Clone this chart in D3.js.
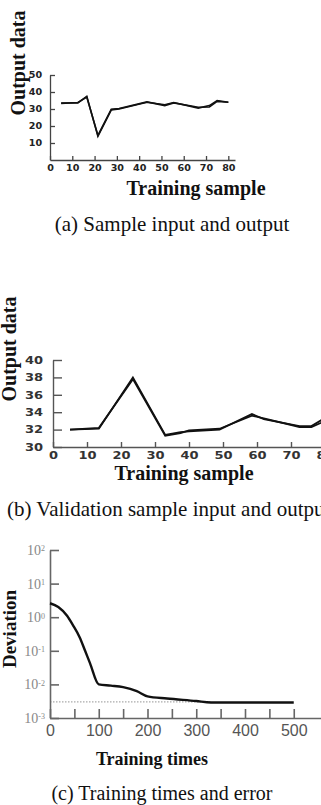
<!DOCTYPE html>
<html>
<head>
<meta charset="utf-8">
<script src="https://cdn.jsdelivr.net/npm/d3@7"></script>
<style>
body { margin: 0; background: #fff; }
svg { display: block; }
.wide text { transform-box: fill-box; transform-origin: center; }
.wa text { font: bold 8px "DejaVu Sans"; fill: #222; transform: scaleX(1.2); }
.wb text { font: bold 10px "DejaVu Sans"; fill: #333; transform: scaleX(1.3); }
.gc text { font: 16px "Liberation Sans"; fill: #555; }
.gy text { font: 14px "Liberation Serif"; fill: #888; }
.title { font: bold 20px "Liberation Serif"; fill: #111; }
.cap { font: 21px "Liberation Serif"; fill: #111; }
</style>
</head>
<body>
<svg width="321" height="805"></svg>
<script>
//	DATA
var sampleX = [5, 12.5, 16.5, 21.5, 27.5, 31, 43.5, 51.5, 55.5, 66.5, 71.5, 75, 80],
	sampleActual = [33.5, 33.5, 37.5, 14, 29.5, 30, 34, 32.5, 33.8, 30.5, 32, 35, 34],
	samplePred = [33.3, 33.8, 37, 14.5, 29.8, 30.3, 34.2, 32, 33.6, 31, 31.2, 34.5, 34],
	sampleTicksX = [0, 10, 20, 30, 40, 50, 60, 70, 80],
	sampleTicksY = [10, 20, 30, 40, 50];

var validX = [5, 13.5, 23.5, 33, 37.5, 40, 49, 58.5, 62, 72.5, 76, 79, 82],
	validActual = [32, 32.1, 38, 31.4, 31.7, 31.8, 32, 33.8, 33.2, 32.4, 32.4, 33.1, 33.5],
	validPred = [32, 32.2, 37.8, 31.3, 31.6, 31.9, 32.1, 33.6, 33.3, 32.3, 32.3, 32.8, 33.3],
	validTicksX = [0, 10, 20, 30, 40, 50, 60, 70, 80],
	validTicksY = [30, 32, 34, 36, 38, 40];

var epochs = [0, 17, 35, 47, 61, 72, 82, 100, 125, 150, 178, 200, 240, 300, 330, 400, 500],
	deviation = [2.6, 2.0, 1.1, 0.58, 0.25, 0.1, 0.043, 0.01, 0.0092, 0.0083, 0.0063, 0.0044, 0.0038, 0.0032, 0.0029, 0.0029, 0.0029],
	goal = 0.003,
	epochTicks = [0, 50, 100, 150, 200, 250, 300, 350, 400, 450, 500],
	devTicks = [1e-3, 1e-2, 1e-1, 1, 10, 100];

var svg = d3.select("svg");

function pairs(xs, ys) { return xs.map(function(x, i) { return [x, ys[i]]; }); }

//	(a) SAMPLE INPUT AND OUTPUT
var xa = d3.scaleLinear().domain([0, 83]).range([50, 235]),
	ya = d3.scaleLinear().domain([0, 50]).range([160, 75]);

var axa = svg.append("g").attr("class", "wide wa").attr("transform", "translate(0,160)")
	.call(d3.axisBottom(xa).tickValues(sampleTicksX).tickSizeInner(-4).tickSizeOuter(0).tickPadding(5));
var aya = svg.append("g").attr("class", "wide wa").attr("transform", "translate(50,0)")
	.call(d3.axisLeft(ya).tickValues(sampleTicksY).tickSizeInner(-5).tickSizeOuter(0).tickPadding(9));
[axa, aya].forEach(function(g) { g.selectAll("path,line").attr("stroke", "#444").attr("stroke-width", 1.3); });

var lineA = d3.line().x(function(d) { return xa(d[0]); }).y(function(d) { return ya(d[1]); });
[sampleActual, samplePred].forEach(function(s) {
	svg.append("path").datum(pairs(sampleX, s)).attr("d", lineA)
		.attr("fill", "none").attr("stroke", "#111").attr("stroke-width", 1.6);
});

svg.append("text").attr("class", "title").attr("transform", "translate(25,63) rotate(-90)")
	.attr("text-anchor", "middle").text("Output data");
svg.append("text").attr("class", "title").attr("x", 196).attr("y", 195)
	.attr("text-anchor", "middle").text("Training sample");
svg.append("text").attr("class", "cap").attr("x", 172).attr("y", 231)
	.attr("text-anchor", "middle").text("(a) Sample input and output");

//	(b) VALIDATION SAMPLE INPUT AND OUTPUT
var xb = d3.scaleLinear().domain([0, 80]).range([53, 325]),
	yb = d3.scaleLinear().domain([30, 40]).range([447, 360]);

var axb = svg.append("g").attr("class", "wide wb").attr("transform", "translate(0,447)")
	.call(d3.axisBottom(xb).tickValues(validTicksX).tickSizeInner(-5).tickSizeOuter(0).tickPadding(5));
var ayb = svg.append("g").attr("class", "wide wb").attr("transform", "translate(53,0)")
	.call(d3.axisLeft(yb).tickValues(validTicksY).tickSizeInner(-9).tickSizeOuter(0).tickPadding(12));
[axb, ayb].forEach(function(g) { g.selectAll("path,line").attr("stroke", "#555").attr("stroke-width", 1.4); });

var lineB = d3.line().x(function(d) { return xb(d[0]); }).y(function(d) { return yb(d[1]); });
[validActual, validPred].forEach(function(s) {
	svg.append("path").datum(pairs(validX, s)).attr("d", lineB)
		.attr("fill", "none").attr("stroke", "#111").attr("stroke-width", 1.8);
});

svg.append("text").attr("class", "title").attr("transform", "translate(16,349) rotate(-90)")
	.attr("text-anchor", "middle").text("Output data");
svg.append("text").attr("class", "title").attr("x", 184).attr("y", 480)
	.attr("text-anchor", "middle").text("Training sample");
svg.append("text").attr("class", "cap").attr("x", 7).attr("y", 516)
	.text("(b) Validation sample input and output");

//	(c) TRAINING TIMES AND ERROR
var xc = d3.scaleLinear().domain([0, 560]).range([50, 323]),
	yc = d3.scaleLog().domain([1e-3, 1e2]).range([718, 550]);

svg.append("line").attr("x1", xc(0)).attr("x2", xc(330))
	.attr("y1", yc(goal)).attr("y2", yc(goal))
	.attr("stroke", "#aaa").attr("stroke-width", 1.2).attr("stroke-dasharray", "1.5,1.5");

var axc = svg.append("g").attr("class", "gc").attr("transform", "translate(0,718)")
	.call(d3.axisBottom(xc).tickValues(epochTicks).tickSizeInner(-9).tickSizeOuter(0).tickPadding(7)
		.tickFormat(function(d) { return d % 100 === 0 ? d : ""; }));
var ayc = svg.append("g").attr("class", "gy").attr("transform", "translate(50,0)")
	.call(d3.axisLeft(yc).tickValues(devTicks).tickSizeInner(-9).tickSizeOuter(0).tickPadding(10));
[axc, ayc].forEach(function(g) { g.selectAll("path,line").attr("stroke", "#666").attr("stroke-width", 1.6); });

ayc.selectAll(".tick text").each(function(d) {
	var t = d3.select(this).text("").attr("x", -5);
	t.append("tspan").text("10");
	t.append("tspan").attr("dy", "-0.45em").style("font-size", "8px").text(Math.round(Math.log10(d)));
});

var lineC = d3.line().x(function(d) { return xc(d[0]); }).y(function(d) { return yc(d[1]); })
	.curve(d3.curveMonotoneX);
svg.append("path").datum(pairs(epochs, deviation)).attr("d", lineC)
	.attr("fill", "none").attr("stroke", "#111").attr("stroke-width", 2.4);

svg.append("text").attr("class", "title").style("font-size", "19px")
	.attr("transform", "translate(16,629) rotate(-90)")
	.attr("text-anchor", "middle").text("Deviation");
svg.append("text").attr("class", "title").style("font-size", "18px").attr("x", 152).attr("y", 765)
	.attr("text-anchor", "middle").text("Training times");
svg.append("text").attr("class", "cap").style("font-size", "20px").attr("x", 162).attr("y", 800)
	.attr("text-anchor", "middle").text("(c) Training times and error");
</script>
</body>
</html>
